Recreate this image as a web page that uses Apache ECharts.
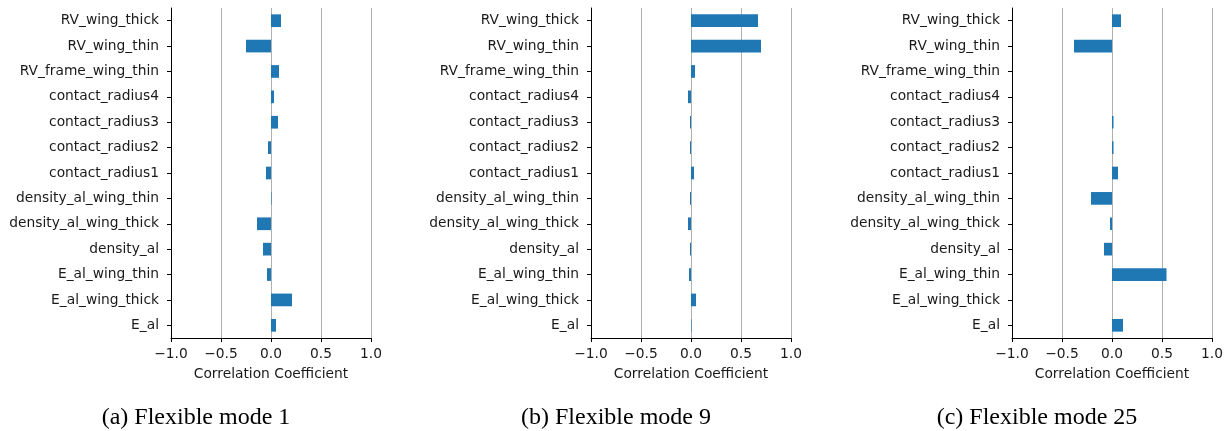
<!DOCTYPE html>
<html>
<head>
<meta charset="utf-8">
<script src="https://cdn.jsdelivr.net/npm/echarts@6/dist/echarts.min.js"></script>
<style>
html,body{margin:0;padding:0;background:#fff;}
#chart{width:1229px;height:431px;}
</style>
</head>
<body>
<div id="chart"></div>
<script>
// Categories listed from bottom to top
const categories = ['E_al','E_al_wing_thick','E_al_wing_thin','density_al','density_al_wing_thick','density_al_wing_thin','contact_radius1','contact_radius2','contact_radius3','contact_radius4','RV_frame_wing_thin','RV_wing_thin','RV_wing_thick'];
const mode1 = [0.05, 0.21, -0.04, -0.08, -0.14, 0.005, -0.05, -0.03, 0.07, 0.03, 0.08, -0.25, 0.10];
const mode9 = [0.005, 0.05, -0.02, -0.01, -0.03, -0.01, 0.03, -0.01, -0.01, -0.03, 0.04, 0.70, 0.67];
const mode25 = [0.11, 0, 0.545, -0.08, -0.02, -0.21, 0.06, 0.015, 0.015, 0, 0, -0.38, 0.09];
const xTicks = {min: -1, max: 1, interval: 0.5};
const xLabel = 'Correlation Coefficient';
const captions = ['(a) Flexible mode 1', '(b) Flexible mode 9', '(c) Flexible mode 25'];

const panels = [mode1, mode9, mode25];
const lefts = [171, 591, 1012];
const textColor = '#1a1a1a';
const sansFont = 'DejaVu Sans';
const fs = 13.8;

const chart = echarts.init(document.getElementById('chart'), null, {renderer: 'canvas'});
const grids = [], xAxes = [], yAxes = [], series = [], graphics = [];
panels.forEach((vals, i) => {
  grids.push({left: lefts[i], width: 200, top: 8, height: 330, containLabel: false});
  xAxes.push({
    type: 'value', gridIndex: i, min: xTicks.min, max: xTicks.max, interval: xTicks.interval,
    name: xLabel, nameLocation: 'middle', nameGap: 29,
    nameTextStyle: {fontFamily: sansFont, fontSize: fs, color: textColor},
    axisLine: {show: true, onZero: false, lineStyle: {color: '#000', width: 1}},
    axisTick: {show: true, inside: false, length: 4, lineStyle: {color: '#000'}},
    axisLabel: {margin: 9, fontFamily: sansFont, fontSize: fs, color: textColor,
      formatter: v => (v < 0 ? '\u2212' : '') + Math.abs(v).toFixed(1)},
    splitLine: {show: true, lineStyle: {color: '#b0b0b0', width: 1}}
  });
  yAxes.push({
    type: 'category', gridIndex: i, data: categories,
    axisLine: {show: true, onZero: false, lineStyle: {color: '#000', width: 1}},
    axisTick: {show: true, alignWithLabel: true, length: 4, lineStyle: {color: '#000'}},
    axisLabel: {margin: 12, fontFamily: sansFont, fontSize: fs, color: textColor, interval: 0},
    splitLine: {show: false}
  });
  series.push({
    type: 'bar', xAxisIndex: i, yAxisIndex: i, data: vals, barWidth: '50%',
    itemStyle: {color: '#1f77b4'}, animation: false
  });
  graphics.push({
    type: 'text',
    x: lefts[i] + 100 - 75, y: 418,
    style: {text: captions[i], font: '24px "Liberation Serif"', fill: '#000',
      textAlign: 'center', textVerticalAlign: 'middle'}
  });
});

chart.setOption({
  animation: false,
  backgroundColor: '#fff',
  grid: grids,
  xAxis: xAxes,
  yAxis: yAxes,
  series: series,
  graphic: graphics
});
</script>
</body>
</html>
